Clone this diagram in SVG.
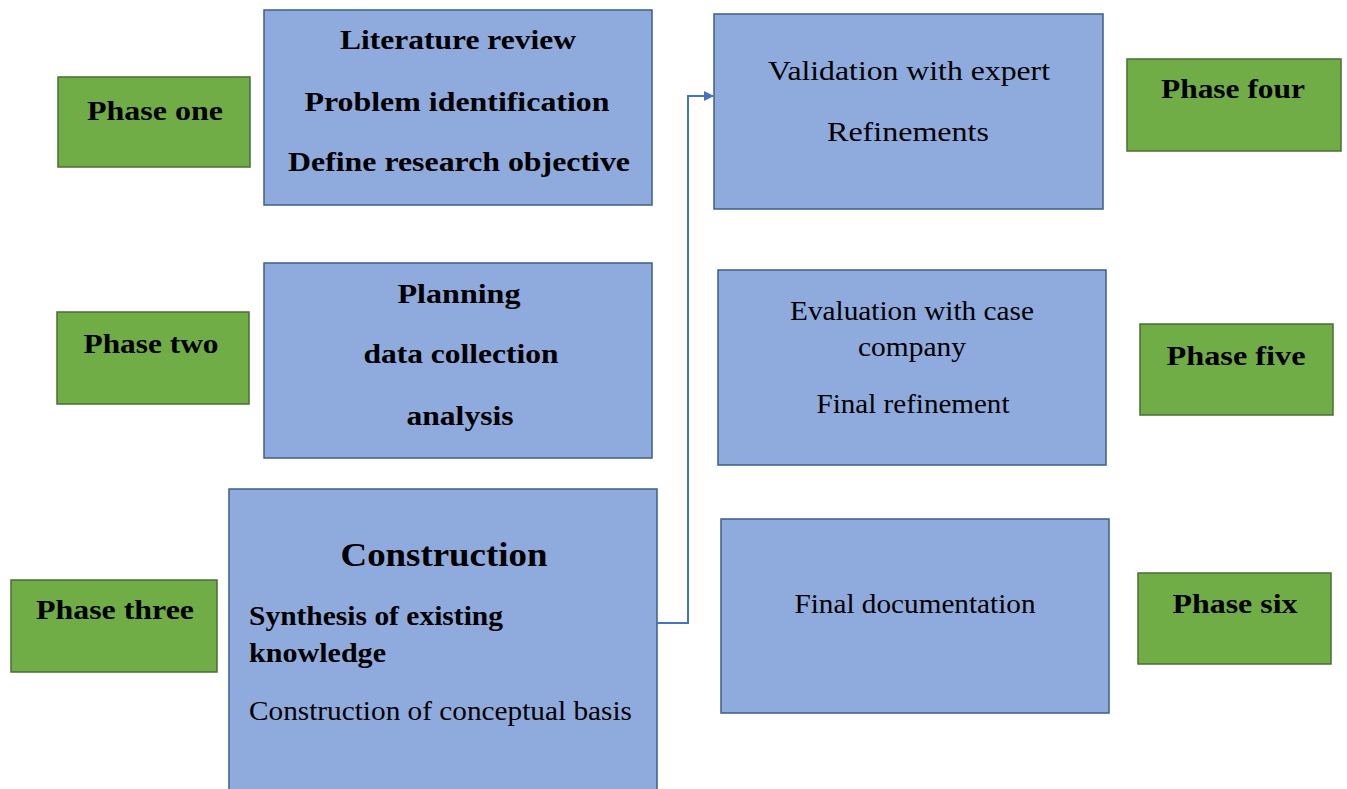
<svg xmlns="http://www.w3.org/2000/svg" width="1347" height="789" viewBox="0 0 1347 789">
<style>
.blue{fill:#8faadc;stroke:#3e5f8a;stroke-width:1.5}
.green{fill:#70ad47;stroke:#4a6e35;stroke-width:1.5}
text{font-family:'Liberation Serif','DejaVu Serif',serif;font-size:27px;fill:#000}
.b{font-weight:bold}
.c{text-anchor:middle}
.conn{fill:none;stroke:#4472c4;stroke-width:2}
</style>
<defs>
<marker id="arr" markerWidth="10" markerHeight="10" refX="9" refY="5" orient="auto" markerUnits="userSpaceOnUse">
<path d="M0,0 L10,5 L0,10 z" fill="#4472c4"/>
</marker>
</defs>
<rect width="1347" height="789" fill="#fff"/>
<g id="phase1"><rect class="green" x="58" y="77" width="192" height="90"/><text class="b c" x="155" y="120" textLength="136" lengthAdjust="spacingAndGlyphs">Phase one</text></g>
<g id="box1"><rect class="blue" x="264" y="10" width="388" height="195"/>
<text class="b c" x="458" y="49" textLength="236" lengthAdjust="spacingAndGlyphs">Literature review</text>
<text class="b c" x="457" y="111" textLength="305" lengthAdjust="spacingAndGlyphs">Problem identification</text>
<text class="b c" x="459" y="171" textLength="342" lengthAdjust="spacingAndGlyphs">Define research objective</text></g>
<g id="phase2"><rect class="green" x="57" y="312" width="192" height="92"/><text class="b c" x="151" y="353" textLength="135" lengthAdjust="spacingAndGlyphs">Phase two</text></g>
<g id="box2"><rect class="blue" x="264" y="263" width="388" height="195"/>
<text class="b c" x="459" y="303" textLength="123" lengthAdjust="spacingAndGlyphs">Planning</text>
<text class="b c" x="461" y="363" textLength="195" lengthAdjust="spacingAndGlyphs">data collection</text>
<text class="b c" x="460" y="425" textLength="107" lengthAdjust="spacingAndGlyphs">analysis</text></g>
<g id="phase3"><rect class="green" x="11" y="580" width="206" height="92"/><text class="b c" x="115" y="619" textLength="158" lengthAdjust="spacingAndGlyphs">Phase three</text></g>
<g id="box3"><rect class="blue" x="229" y="489" width="428" height="310"/>
<text class="b c" x="444" y="566" style="font-size:33px" textLength="207" lengthAdjust="spacingAndGlyphs">Construction</text>
<text class="b" x="249" y="625" textLength="254" lengthAdjust="spacingAndGlyphs">Synthesis of existing</text>
<text class="b" x="249" y="662" textLength="137" lengthAdjust="spacingAndGlyphs">knowledge</text>
<text x="249" y="720" textLength="383" lengthAdjust="spacingAndGlyphs">Construction of conceptual basis</text></g>
<g id="box4"><rect class="blue" x="714" y="14" width="389" height="195"/>
<text class="c" x="909" y="80" textLength="282" lengthAdjust="spacingAndGlyphs">Validation with expert</text>
<text class="c" x="908" y="141" textLength="162" lengthAdjust="spacingAndGlyphs">Refinements</text></g>
<g id="phase4"><rect class="green" x="1127" y="59" width="214" height="92"/><text class="b c" x="1233" y="98" textLength="144" lengthAdjust="spacingAndGlyphs">Phase four</text></g>
<g id="box5"><rect class="blue" x="718" y="270" width="388" height="195"/>
<text class="c" x="912" y="320" textLength="244" lengthAdjust="spacingAndGlyphs">Evaluation with case</text>
<text class="c" x="912" y="356" textLength="108" lengthAdjust="spacingAndGlyphs">company</text>
<text class="c" x="913" y="413" textLength="193" lengthAdjust="spacingAndGlyphs">Final refinement</text></g>
<g id="phase5"><rect class="green" x="1140" y="324" width="193" height="91"/><text class="b c" x="1236" y="365" textLength="139" lengthAdjust="spacingAndGlyphs">Phase five</text></g>
<g id="box6"><rect class="blue" x="721" y="519" width="388" height="194"/>
<text class="c" x="915" y="613" textLength="241" lengthAdjust="spacingAndGlyphs">Final documentation</text></g>
<g id="phase6"><rect class="green" x="1138" y="573" width="193" height="91"/><text class="b c" x="1235" y="613" textLength="125" lengthAdjust="spacingAndGlyphs">Phase six</text></g>
<g id="connectors"><path class="conn" d="M657,623 H688 V96 H713" marker-end="url(#arr)"/></g>
</svg>
